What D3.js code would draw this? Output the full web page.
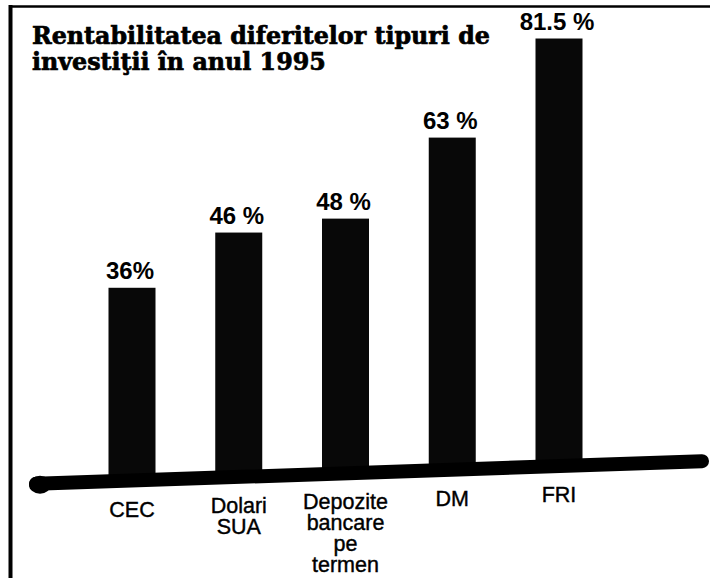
<!DOCTYPE html>
<html>
<head>
<meta charset="utf-8">
<script src="https://cdn.jsdelivr.net/npm/d3@7/dist/d3.min.js"></script>
<style>
  html, body { margin: 0; padding: 0; background: #fff; }
  svg { display: block; }
</style>
</head>
<body>
<svg id="chart" width="710" height="578"></svg>
<script>
// ---- data ----
const titleLines = ["Rentabilitatea diferitelor tipuri de", "investiţii în anul 1995"];
const categories = ["CEC", "Dolari SUA", "Depozite bancare pe termen", "DM", "FRI"];
const categoryLines = [["CEC"], ["Dolari", "SUA"], ["Depozite", "bancare", "pe", "termen"], ["DM"], ["FRI"]];
const values = [36, 46, 48, 63, 81.5];
const valueLabels = ["36%", "46 %", "48 %", "63 %", "81.5 %"];

// ---- layout ----
const W = 710, H = 578;
const svg = d3.select("#chart");

// frame (left and top rules)
svg.append("line").attr("x1", 10.5).attr("y1", 5).attr("x2", 10.5).attr("y2", H)
  .attr("stroke", "#000").attr("stroke-width", 4);
svg.append("line").attr("x1", 9).attr("y1", 6.5).attr("x2", W).attr("y2", 6.5)
  .attr("stroke", "#000").attr("stroke-width", 2.5);

// scales
const x = d3.scalePoint().domain(categories).range([132, 559]);
const baseY = d3.scaleLinear().domain([30, 708]).range([484, 461]); // slanted baseline
const h = d3.scaleLinear().domain([0, 100]).range([7, 523]);
const barW = 47;

// bars
svg.append("g").selectAll("rect").data(categories).join("rect")
  .attr("x", d => x(d) - barW / 2)
  .attr("y", (d, i) => baseY(x(d)) - h(values[i]))
  .attr("width", barW)
  .attr("height", (d, i) => h(values[i]) + 2)
  .attr("fill", "#080808");

// baseline (thick hand-drawn rule)
svg.append("line")
  .attr("x1", 36).attr("y1", baseY(36))
  .attr("x2", 702).attr("y2", baseY(702))
  .attr("stroke", "#000").attr("stroke-width", 14).attr("stroke-linecap", "round");
svg.append("ellipse").attr("cx", 40).attr("cy", baseY(40) + 1).attr("rx", 11).attr("ry", 9).attr("fill", "#000");

// value labels
svg.append("g").selectAll("text").data(categories).join("text")
  .attr("x", d => x(d) - 2)
  .attr("y", (d, i) => baseY(x(d)) - h(values[i]) - 9)
  .attr("text-anchor", "middle")
  .attr("font-family", "'Liberation Sans', Arial, sans-serif")
  .attr("font-weight", "bold")
  .attr("font-size", 24)
  .attr("fill", "#000")
  .text((d, i) => valueLabels[i]);

// category labels
const catG = svg.append("g")
  .attr("font-family", "'Liberation Sans', Arial, sans-serif")
  .attr("font-size", 21.5)
  .attr("fill", "#000")
  .attr("stroke", "#000")
  .attr("stroke-width", 0.4)
  .attr("text-anchor", "middle");
categories.forEach((c, i) => {
  const t = catG.append("text")
    .attr("x", x(c))
    .attr("y", baseY(x(c)) + 36);
  categoryLines[i].forEach((ln, j) => {
    t.append("tspan").attr("x", x(c)).attr("dy", j === 0 ? 0 : 21).text(ln);
  });
});

// title
const titleG = svg.append("g")
  .attr("font-family", "'DejaVu Serif', serif")
  .attr("font-weight", "bold")
  .attr("font-size", 22)
  .attr("fill", "#000")
  .attr("stroke", "#000")
  .attr("stroke-width", 0.7);
titleLines.forEach((ln, j) => {
  titleG.append("text").attr("x", 32).attr("y", 44 + j * 26).text(ln);
});
// fit first line to reference width
const t0 = titleG.select("text").node();
const w0 = t0.getComputedTextLength();
const s = 458 / w0;
titleG.attr("font-size", 22 * s);
</script>
</body>
</html>
